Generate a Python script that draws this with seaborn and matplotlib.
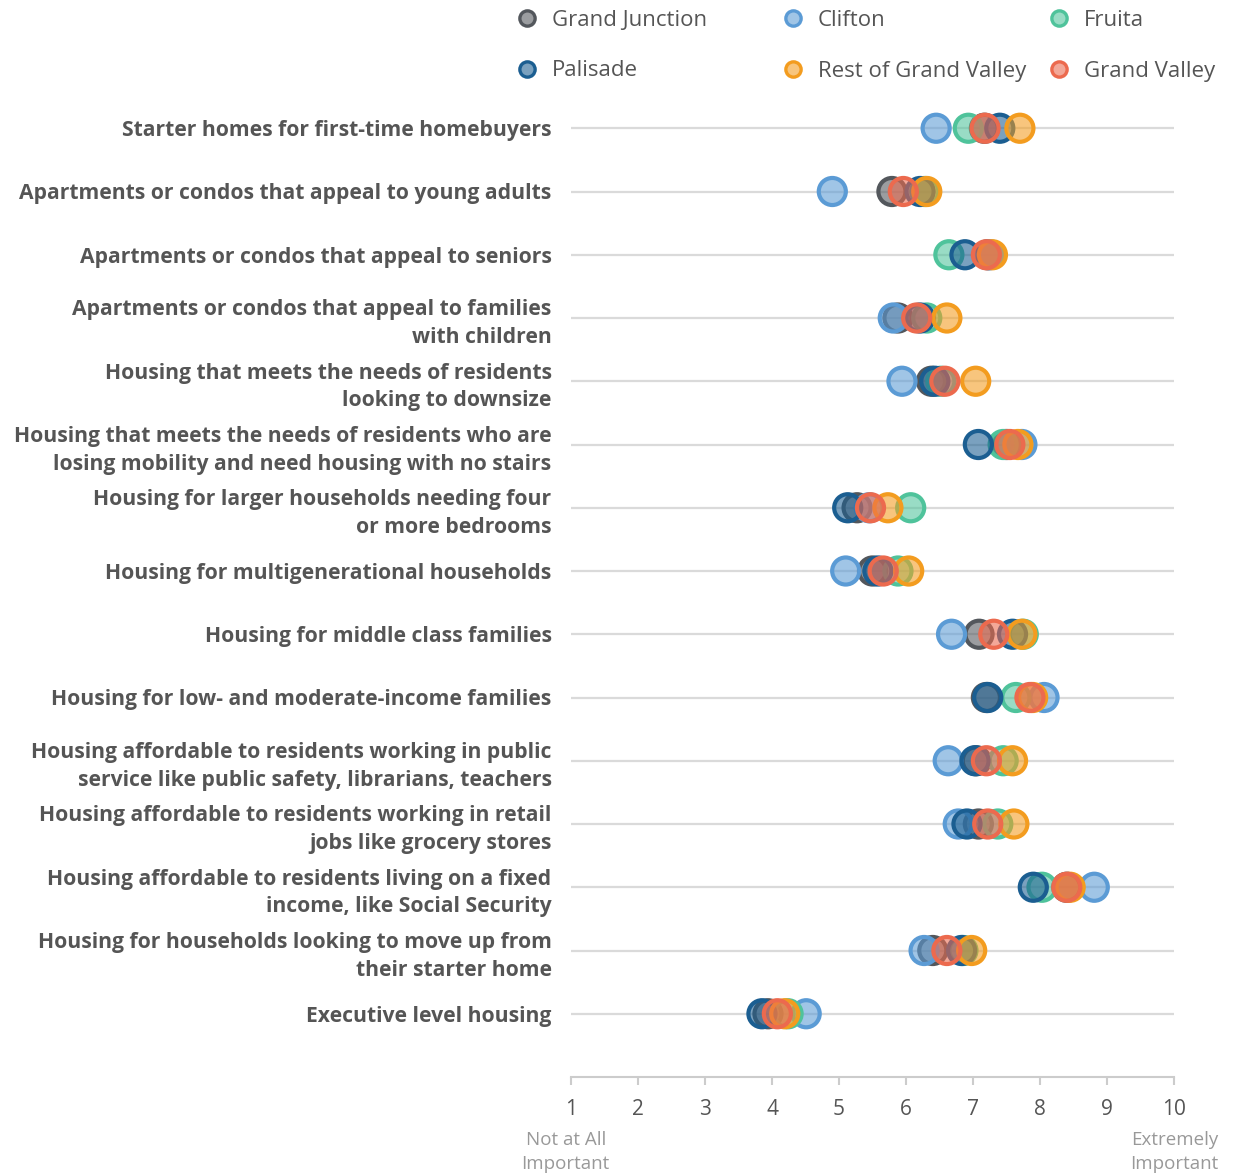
import pandas as pd
import seaborn as sns
import matplotlib.pyplot as plt
from matplotlib.lines import Line2D
from matplotlib.colors import to_rgba

# survey items (top to bottom)
items = [
    "Starter homes for first-time homebuyers",
    "Apartments or condos that appeal to young adults",
    "Apartments or condos that appeal to seniors",
    "Apartments or condos that appeal to families\nwith children",
    "Housing that meets the needs of residents\nlooking to downsize",
    "Housing that meets the needs of residents who are\nlosing mobility and need housing with no stairs",
    "Housing for larger households needing four\nor more bedrooms",
    "Housing for multigenerational households",
    "Housing for middle class families",
    "Housing for low- and moderate-income families",
    "Housing affordable to residents working in public\nservice like public safety, librarians, teachers",
    "Housing affordable to residents working in retail\njobs like grocery stores",
    "Housing affordable to residents living on a fixed\nincome, like Social Security",
    "Housing for households looking to move up from\ntheir starter home",
    "Executive level housing",
]

areas = ["Grand Junction", "Clifton", "Fruita", "Palisade", "Rest of Grand Valley", "Grand Valley"]

grand_junction = [7.17, 5.79, 7.22, 5.88, 6.38, 7.50, 5.27, 5.50, 7.09, 7.20, 7.05, 7.08, 8.40, 6.40, 3.94]
clifton = [6.45, 4.90, 7.25, 5.81, 5.94, 7.73, 5.45, 5.10, 6.68, 8.06, 6.63, 6.78, 8.81, 6.27, 4.51]
fruita = [6.93, 6.28, 6.64, 6.31, 6.52, 7.45, 6.07, 5.88, 7.75, 7.64, 7.45, 7.37, 8.03, 6.85, 4.24]
palisade = [7.40, 6.21, 6.88, 6.21, 6.43, 7.08, 5.13, 5.58, 7.59, 7.22, 7.03, 6.91, 7.90, 6.83, 3.85]
rest_of_gv = [7.70, 6.31, 7.29, 6.61, 7.04, 7.67, 5.73, 6.04, 7.73, 7.89, 7.59, 7.61, 8.45, 6.98, 4.19]
grand_valley = [7.18, 5.96, 7.20, 6.16, 6.58, 7.55, 5.47, 5.66, 7.31, 7.85, 7.20, 7.22, 8.40, 6.61, 4.08]

colors = ["#53575c", "#5b9bd5", "#4fc39b", "#1b5e91", "#f39c1f", "#ec6a4e"]

rows = []
for area, vals in zip(areas, [grand_junction, clifton, fruita, palisade, rest_of_gv, grand_valley]):
    for item, v in zip(items, vals):
        rows.append({"area": area, "item": item, "score": v})
df = pd.DataFrame(rows)

sns.set_style("white")
plt.rcParams["font.family"] = ["Open Sans", "DejaVu Sans"]

fig = plt.figure(figsize=(12.33, 11.76), dpi=100)
ax = fig.add_axes([571 / 1233, 1 - 1077 / 1176, (1174 - 571) / 1233, (1077 - 65) / 1176])

sns.scatterplot(data=df, x="score", y="item", hue="area", hue_order=areas,
                palette=colors, s=380, linewidth=3.0, legend=False, ax=ax, zorder=3)

coll = ax.collections[0]
fc = coll.get_facecolors().copy()
coll.set_edgecolors(fc.copy())
fc[:, 3] = 0.58
coll.set_facecolors(fc)

ax.set_xlim(1, 10)
ax.set_ylim(15, -1)
ax.set_xticks(range(1, 11))
ax.set_yticks(range(len(items)))
ax.set_yticklabels(items, fontsize=15.2, fontweight="bold", color="#555555", linespacing=1.42)
ax.set_xlabel("")
ax.set_ylabel("")

for s in ["top", "left", "right"]:
    ax.spines[s].set_visible(False)
ax.spines["bottom"].set_color("#cccccc")
ax.spines["bottom"].set_linewidth(1.5)
ax.tick_params(axis="y", length=0, pad=14)
ax.tick_params(axis="x", length=6, width=1.5, color="#cccccc", labelsize=15,
               labelcolor="#555555", pad=10, bottom=True)
ax.grid(axis="y", color="#dadada", linewidth=1.6)
ax.grid(axis="x", visible=False)
ax.set_axisbelow(True)

ax.text(0.92, 15.85, "Not at All\nImportant", ha="center", va="top", fontsize=13.5,
        color="#999999", linespacing=1.45, clip_on=False)
ax.text(10.66, 15.85, "Extremely\nImportant", ha="right", va="top", fontsize=13.5,
        color="#999999", linespacing=1.45, multialignment="right", clip_on=False)

# legend in three columns
col_x = [527, 793, 1059]
pairs = [(0, 3), (1, 4), (2, 5)]
for cx, (a, b) in zip(col_x, pairs):
    handles = [Line2D([], [], linestyle="none", marker="o", markersize=11,
                      markerfacecolor=to_rgba(colors[i], 0.58), markeredgecolor=colors[i],
                      markeredgewidth=2.4) for i in (a, b)]
    fig.legend(handles, [areas[a], areas[b]], loc="center left",
               bbox_to_anchor=((cx - 11) / 1233, 1 - 45.5 / 1176), frameon=False,
               fontsize=16, labelcolor="#555555", handlelength=1.0, handletextpad=0.6,
               labelspacing=1.35, borderpad=0, borderaxespad=0)

fig.savefig("out.png", dpi=100)
